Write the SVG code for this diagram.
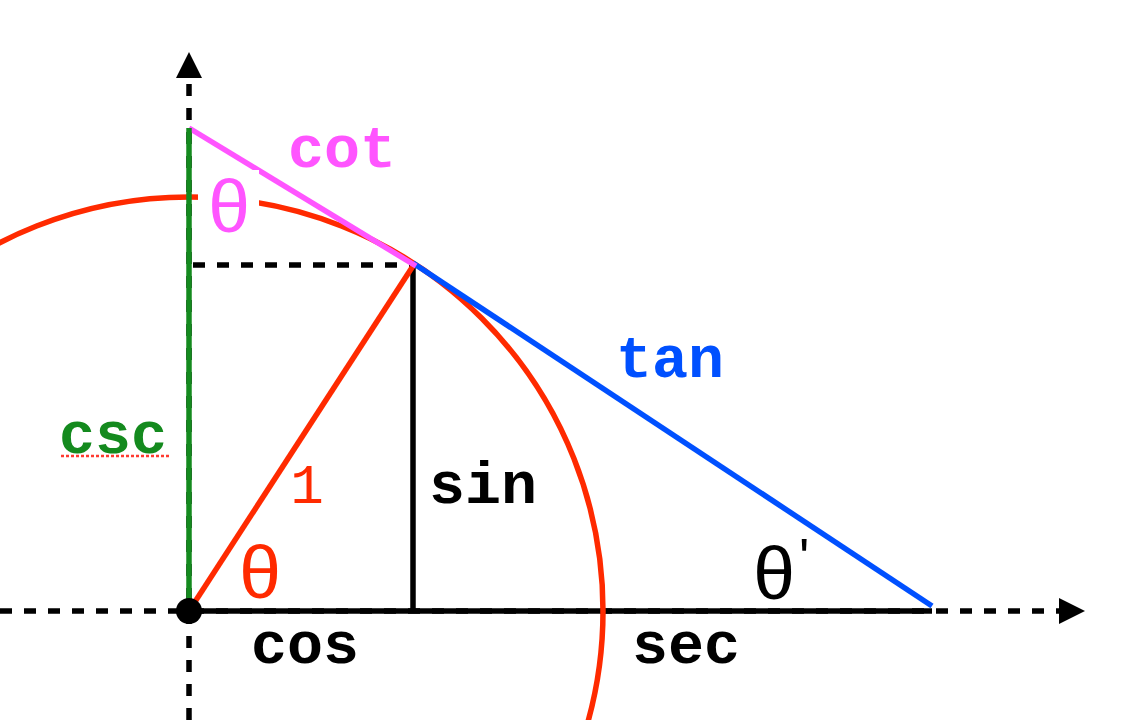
<svg xmlns="http://www.w3.org/2000/svg" width="1124" height="720" viewBox="0 0 1124 720">
  <style>
    .lbl { font-family: "Liberation Mono", "Courier New", monospace; font-weight: bold; font-size: 60px; }
    .theta { font-family: "Liberation Sans", Arial, sans-serif; font-size: 75px; text-anchor: middle; }
    .axis { stroke: #000; stroke-width: 5.5; stroke-dasharray: 12 12; fill: none; }
    .seg { stroke-width: 5.5; fill: none; }
  </style>
  <defs>
    <marker id="arrow" viewBox="0 0 26 26" refX="0" refY="13" markerWidth="26" markerHeight="26" markerUnits="userSpaceOnUse" orient="auto">
      <path d="M0,0 L26,13 L0,26 Z" fill="#000"/>
    </marker>
  </defs>
  <rect width="1124" height="720" fill="#fff"/>

  <g id="axes">
    <line class="axis" x1="0" y1="611" x2="1059" y2="611" marker-end="url(#arrow)"/>
    <line class="axis" x1="189" y1="720" x2="189" y2="78" marker-end="url(#arrow)"/>
  </g>

  <g id="connectors">
    <line id="cos-sec" class="seg" x1="189" y1="611" x2="932" y2="611" stroke="#000"/>
    <line id="sin" class="seg" x1="413" y1="266" x2="413" y2="611" stroke="#000"/>
    <line id="proj" class="axis" x1="193" y1="265" x2="413" y2="265"/>
    <circle id="unit-circle" cx="189" cy="611" r="414" stroke="#ff2a00" stroke-width="5.5" fill="none"/>
    <line id="radius" class="seg" x1="189" y1="611" x2="413" y2="266" stroke="#ff2a00"/>
    <line id="tan" class="seg" x1="413" y1="263" x2="932" y2="606" stroke="#0050ff"/>
    <line id="cot" class="seg" x1="189" y1="128" x2="416" y2="266" stroke="#ff55ff"/>
    <rect id="theta-top-bg" x="198" y="170" width="61" height="68" fill="#fff"/>
    <line id="csc" class="seg" x1="189" y1="128" x2="189" y2="611" stroke="#148a1e"/>
    <circle id="origin" cx="189" cy="611" r="13" fill="#000"/>
    <line id="csc-squiggle" x1="61" y1="456" x2="171" y2="456" stroke="#ff3b30" stroke-width="2.5" stroke-dasharray="3 2"/>
  </g>

  <g id="labels">
    <text class="lbl" x="288" y="167" fill="#ff55ff">cot</text>
    <text class="lbl" x="616" y="377" fill="#0050ff">tan</text>
    <text class="lbl" x="429" y="503" fill="#000">sin</text>
    <text class="lbl" x="251" y="663" fill="#000">cos</text>
    <text class="lbl" x="632" y="663" fill="#000">sec</text>
    <text class="lbl" x="59" y="453" fill="#148a1e">csc</text>
    <text x="307" y="503" fill="#ff2a00" font-family="Liberation Mono, 'Courier New', monospace" font-size="56" text-anchor="middle">1</text>
    <text class="theta" x="260" y="598" fill="#ff2a00">θ</text>
    <text class="theta" x="229" y="232" fill="#ff55ff">θ</text>
    <text class="theta" x="774" y="599" fill="#000">θ</text>
    <text x="799" y="576" fill="#000" font-family="Liberation Sans, Arial, sans-serif" font-size="54">'</text>
  </g>
</svg>
